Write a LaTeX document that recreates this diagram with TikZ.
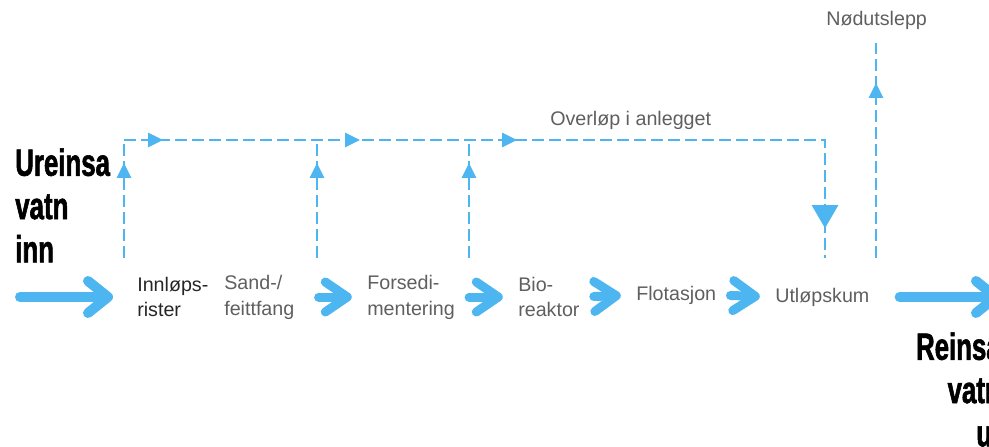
\documentclass[tikz,border=0pt]{standalone}
\usepackage{fontspec}
\setmainfont{Liberation Sans}
\newfontfamily\headfont[FakeStretch=0.68,FakeBold=1.5]{Liberation Sans}
\usetikzlibrary{arrows.meta,decorations.markings,positioning}
\definecolor{flowblue}{RGB}{77,182,240}
\definecolor{labelgray}{RGB}{95,95,95}
\tikzset{
    smalltri/.tip={Triangle[length=0.375cm,width=0.35cm]},
    bigtri/.tip={Triangle[length=0.575cm,width=0.65cm]},
    labelsty/.style={anchor=west,align=left,inner sep=0pt,text=labelgray,font=\fontsize{14}{18.4}\selectfont},
    titlesty/.style={inner sep=0pt,font=\headfont\bfseries\fontsize{27}{30.8}\selectfont},
    flowsty/.style={draw=flowblue,line width=0.25cm,line cap=round,-{Straight Barb[round,length=0.5cm,width=0.8cm]}},
    chevsty/.style={draw=flowblue,line width=0.225cm,line cap=round,-{Straight Barb[round,length=0.55cm,width=0.75cm]},shorten <=0.35cm,shorten >=0.38cm},
    dashsty/.style={draw=flowblue,line width=0.07cm,dash pattern=on 0.3cm off 0.125cm},
    tipat/.style={postaction={decorate,decoration={markings,mark=at position #1 with {\arrow{smalltri}}}}},
}

\begin{document}
\begin{tikzpicture}[x=0.025cm,y=-0.025cm]
  \useasboundingbox (0,0) rectangle (989,447);

  % titles
  \node[titlesty,anchor=north west,align=left] (inntitle) at (15,148) {Ureinsa\\vatn\\inn};
  \node[titlesty,anchor=north east,align=right] (outtitle) at (1001,332) {Reinsa\\vatn\\ut};

  % process steps
  \node[labelsty,text=black!85] (innlop) at (137,297) {Innløps-\\rister};
  \node[labelsty] (sand) at (224,297) {Sand-/\\feittfang};
  \node[labelsty] (forsedi) at (367,297) {Forsedi-\\mentering};
  \node[labelsty] (bio) at (518,297) {Bio-\\reaktor};
  \node[labelsty] (flot) at (636,295) {Flotasjon};
  \node[labelsty] (utlop) at (775,297) {Utløpskum};
  \node[labelsty] (overlop) at (550,120) {Overløp i anlegget};
  \node[labelsty] (nodut) at (826,20) {Nødutslepp};

  % main flow
  \coordinate (inn) at (20,297);
  \coordinate (ut) at (1001,297);
  \draw[flowsty,shorten >=0.6cm] (inn) -- (innlop.west);
  \draw[chevsty,shorten <=0.6cm] (sand.east) -- (forsedi.west);
  \draw[chevsty] (forsedi.east) -- (bio.west);
  \draw[chevsty] (bio.east) -- (flot.west);
  \draw[chevsty] (flot.east) -- (utlop.west);
  \draw[flowsty,shorten <=0.75cm] (utlop.east) -- (ut);

  % overflow lines
  \coordinate (b1) at (124,258);
  \coordinate (t1) at (124,140);
  \coordinate (b2) at (317,258);
  \coordinate (t2) at (317,140);
  \coordinate (b3) at (469,258);
  \coordinate (t3) at (469,140);
  \coordinate (corner) at (825,140);
  \coordinate (drop) at (825,258);
  \coordinate (nb) at (876,258);
  \coordinate (nt) at (876,43);

  \draw[dashsty,tipat=2.375cm] (b1) -- (t1);
  \draw[dashsty,tipat=2.375cm] (b2) -- (t2);
  \draw[dashsty,tipat=2.375cm] (b3) -- (t3);
  \draw[dashsty,postaction={decorate,decoration={markings,
      mark=at position 0.975cm with {\arrow{smalltri}},
      mark=at position 5.9cm with {\arrow{smalltri}},
      mark=at position 9.825cm with {\arrow{smalltri}},
      mark=at position 19.725cm with {\arrow{bigtri}}}}]
    (t1) -- (corner) -- (drop);
  \draw[dashsty,tipat=4.375cm] (nb) -- (nt);
\end{tikzpicture}
\end{document}
